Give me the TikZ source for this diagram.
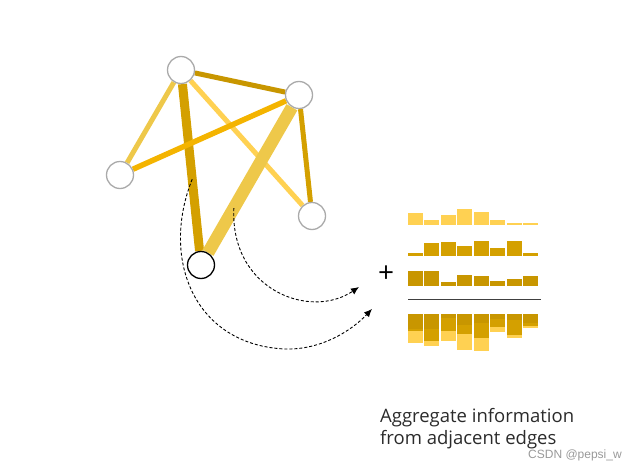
\documentclass[tikz,border=0pt]{standalone}
\usepackage{fontspec}
\setmainfont{Open Sans}
\newfontfamily\wmfont{Liberation Sans}
\usepackage{xcolor}
\definecolor{eLight}{HTML}{FFD152}
\definecolor{eMid}{HTML}{EEC84A}
\definecolor{eGold}{HTML}{D4A000}
\definecolor{eDark}{HTML}{C89600}
\definecolor{eOrange}{HTML}{F4B400}
\definecolor{nGray}{HTML}{AAAAAA}
\definecolor{tGray}{HTML}{2B2B2B}
\usetikzlibrary{arrows.meta, backgrounds, calc}

\begin{document}
\begin{tikzpicture}[
  x=1pt, y=-1pt,
  vtx/.style={circle, draw=nGray, fill=white, line width=1.3pt,
              minimum size=27pt, inner sep=0pt},
  focus/.style={vtx, draw=black},
  edge/.style={line cap=butt},
  flow/.style={-{Latex[length=8pt,width=7pt]}, draw=black, line width=0.9pt,
               dash pattern=on 3pt off 2pt},
  bar/.style={line width=0pt}
]
\useasboundingbox (0,0) rectangle (637,471);

% graph
\node[vtx]   (top)  at (181,70)  {};
\node[vtx]   (rtop) at (299,95)  {};
\node[vtx]   (left) at (120,175) {};
\node[vtx]   (rlow) at (312,216) {};
\node[focus] (ctr)  at (201,265) {};

\begin{scope}[on background layer]
\foreach \i/\j/\c/\w in {top/rtop/eDark/5, top/left/eMid/5, top/rlow/eLight/5,
    top/ctr/eGold/9, rtop/left/eOrange/5.5, rtop/ctr/eMid/12.5, rtop/rlow/eGold/5}
  \draw[edge, draw=\c, line width=\w pt] (\i) -- (\j);
\end{scope}

% messages
\coordinate (s1) at ($(top)!0.56!(ctr)$);
\coordinate (s2) at ($(rtop)!0.665!(ctr)$);
\coordinate (t1) at (372,309);
\coordinate (t2) at (359,287);
\draw[flow] (s1) .. controls (160,260) and (195,345) .. (285,349)
                 .. controls (320,350) and (350,332) .. (t1);
\draw[flow] (s2) .. controls (230,290) and (310,320) .. (t2);

% edge features
\node[font=\fontsize{28}{28}\selectfont, inner sep=0pt] (plus) at (386,274) {+};
\foreach \h [count=\k] in {12,5,10,16,13,5,2.3,2.3}
  \fill[eLight] ({408+16.45*(\k-1)},225.3) rectangle ++(15,-\h);
\foreach \h [count=\k] in {2.3,12.3,13.7,9.3,15,8,15,2.7}
  \fill[eGold] ({408+16.45*(\k-1)},255.7) rectangle ++(15,-\h);
\foreach \h [count=\k] in {15.3,15.3,4,11,9.7,5.3,6.7,9.7}
  \fill[eDark] ({408+16.45*(\k-1)},286) rectangle ++(15,-\h);
\draw[draw=black!75, line width=1.4pt] (408,299.7) -- (541,299.7);
\foreach \a/\b/\c [count=\k] in {15.3/2.3/12, 15.3/12.3/5, 4/13.7/10, 11/9.3/16,
    9.7/15/13, 5.3/8/5, 6.7/15/2.3, 9.7/2.7/2.3} {
  \fill[eDark]  ({408+16.45*(\k-1)},313.7) rectangle ++(15,\a);
  \fill[eGold]  ({408+16.45*(\k-1)},313.7+\a) rectangle ++(15,\b);
  \fill[eLight] ({408+16.45*(\k-1)},313.7+\a+\b) rectangle ++(15,\c);
}

% caption
\node[anchor=base west, align=left, inner sep=0pt, text=tGray,
      font=\fontsize{18.5}{22}\selectfont] (cap) at (380,444)
  {Aggregate information\\from adjacent edges};
\node[anchor=base west, inner sep=0pt, text=black!40,
      font=\wmfont\fontsize{12}{14}\selectfont] (wm) at (528,458) {CSDN @pepsi\_w};
\end{tikzpicture}
\end{document}
